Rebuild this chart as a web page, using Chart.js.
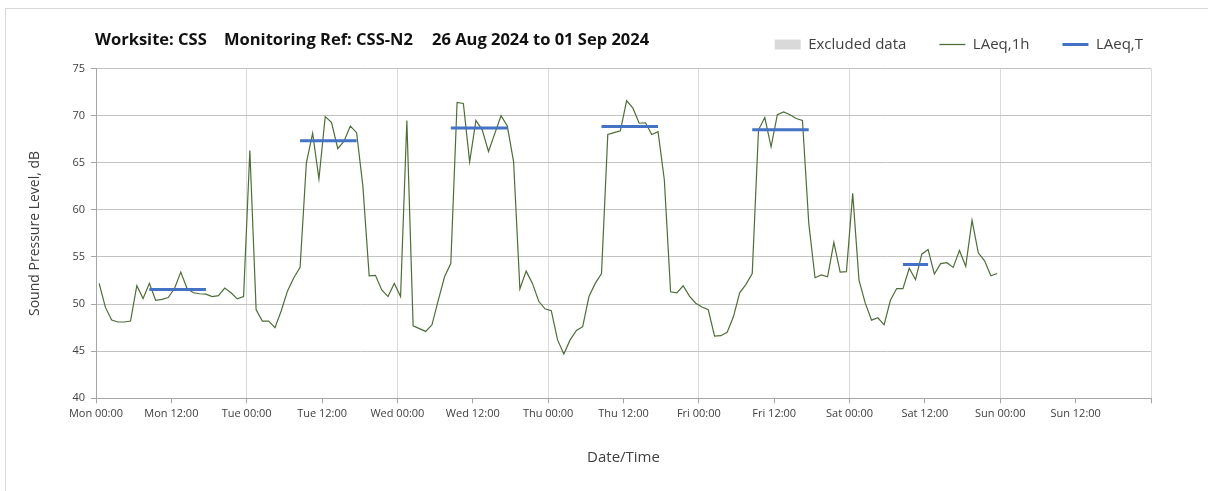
<!DOCTYPE html>
<html>
<head>
<meta charset="utf-8">
<script src="https://cdn.jsdelivr.net/npm/chart.js@4"></script>
<style>
  html, body { margin: 0; padding: 0; background: #fff; }
  #wrap { position: relative; width: 1208px; height: 491px; overflow: hidden; }
  #frame { position: absolute; left: 5px; top: 8px; width: 1400px; height: 700px;
           border-left: 1px solid #d9d9d9; border-top: 1px solid #d9d9d9; pointer-events: none; }
  #title span { position: absolute; top: 29px; font: bold 16.5px 'Open Sans', sans-serif; color: #111; white-space: nowrap; line-height: 20px; }
  canvas { position: absolute; left: 0; top: 0; }
</style>
</head>
<body>
<div id="wrap">
  <canvas id="noise-chart" width="1208" height="491"></canvas>
  <div id="frame"></div>
  <div id="title">
    <span style="left:95px">Worksite: CSS</span>
    <span style="left:224px">Monitoring Ref: CSS-N2</span>
    <span style="left:432px">26 Aug 2024 to 01 Sep 2024</span>
  </div>
</div>
<script>
// hourly LAeq,1h from Mon 00:00, one value per hour (plotted mid-hour)
var laeq1h = [
  52.2, 49.65, 48.3, 48.1, 48.1, 48.2, 51.95, 50.6, 52.2, 50.4, 50.5, 50.7,
  51.65, 53.4, 51.65, 51.2, 51.1, 51.05, 50.8, 50.9, 51.7, 51.2, 50.55, 50.8,
  66.3, 49.4, 48.2, 48.2, 47.5, 49.3, 51.4, 52.8, 53.9, 65.0, 68.15, 63.3,
  69.9, 69.3, 66.5, 67.3, 68.9, 68.2, 62.5, 53.0, 53.05, 51.5, 50.8, 52.2,
  50.8, 69.5, 47.7, 47.4, 47.1, 47.8, 50.4, 52.9, 54.3, 71.4, 71.3, 65.1,
  69.5, 68.5, 66.2, 68.1, 70.0, 68.9, 65.1, 51.6, 53.5, 52.2, 50.3, 49.5,
  49.3, 46.2, 44.7, 46.2, 47.2, 47.6, 50.8, 52.2, 53.25, 68.0, 68.2, 68.4,
  71.6, 70.8, 69.2, 69.25, 68.0, 68.3, 63.2, 51.3, 51.2, 51.95, 50.85, 50.1,
  49.7, 49.4, 46.6, 46.65, 47.0, 48.65, 51.2, 52.1, 53.25, 68.5, 69.8, 66.7,
  70.1, 70.4, 70.1, 69.7, 69.5, 58.6, 52.8, 53.1, 52.9, 56.55, 53.4, 53.45,
  61.75, 52.55, 50.1, 48.3, 48.55, 47.8, 50.4, 51.65, 51.65, 53.8, 52.6, 55.3,
  55.8, 53.2, 54.3, 54.4, 53.9, 55.7, 54.0, 58.9, 55.45, 54.6, 53.0, 53.25
];
var hourOffset = 0.5;

// LAeq,T daytime periods (hours from Mon 00:00)
var periodStart = [8, 32, 56, 80, 104, 128];
var periodEnd = [18, 42, 66, 90, 114, 133];
var laeqT = [51.55, 67.35, 68.7, 68.85, 68.5, 54.2];

var xTickLabels = [
  'Mon 00:00', 'Mon 12:00', 'Tue 00:00', 'Tue 12:00', 'Wed 00:00', 'Wed 12:00',
  'Thu 00:00', 'Thu 12:00', 'Fri 00:00', 'Fri 12:00', 'Sat 00:00', 'Sat 12:00',
  'Sun 00:00', 'Sun 12:00', ''
];
var xMin = 0, xMax = 168, xStep = 12;
var yMin = 40, yMax = 75, yStep = 5;

var FONT = "'Open Sans', sans-serif";
Chart.defaults.font.family = FONT;

var hourlyPoints = laeq1h.map(function (v, i) { return { x: i + hourOffset, y: v }; });

var periodPoints = [];
laeqT.forEach(function (v, i) {
  periodPoints.push({ x: periodStart[i] + hourOffset, y: v });
  periodPoints.push({ x: periodEnd[i] - hourOffset, y: v });
  periodPoints.push({ x: periodEnd[i], y: null });
});

new Chart(document.getElementById('noise-chart'), {
  type: 'line',
  data: {
    datasets: [
      {
        label: 'Excluded data',
        data: [],
        backgroundColor: '#d9d9d9',
        borderColor: '#d9d9d9',
        legendStyle: 'rect',
        legendWidth: 0,
        order: 2
      },
      {
        label: 'LAeq,1h',
        data: hourlyPoints,
        borderColor: '#4f6d38',
        backgroundColor: '#4f6d38',
        borderWidth: 1.2,
        pointRadius: 0,
        tension: 0,
        legendStyle: 'line',
        legendWidth: 1.3,
        order: 1
      },
      {
        label: 'LAeq,T',
        data: periodPoints,
        borderColor: '#4472c4',
        backgroundColor: '#4472c4',
        borderWidth: 3,
        pointRadius: 0,
        spanGaps: false,
        legendStyle: 'line',
        legendWidth: 3,
        order: 0
      }
    ]
  },
  options: {
    responsive: false,
    animation: false,
    layout: { padding: { top: 4, right: 32, left: 0, bottom: 0 } },
    plugins: {
      tooltip: { enabled: false },
      legend: {
        position: 'top',
        align: 'end',
        labels: {
          usePointStyle: true,
          pointStyleWidth: 26,
          boxHeight: 10,
          padding: 33,
          color: '#404040',
          font: { size: 15 },
          generateLabels: function (chart) {
            return chart.data.datasets.map(function (ds, i) {
              return {
                text: ds.label,
                datasetIndex: i,
                pointStyle: ds.legendStyle,
                fillStyle: ds.backgroundColor,
                strokeStyle: ds.borderColor,
                lineWidth: ds.legendWidth,
                fontColor: '#404040',
                hidden: false
              };
            });
          }
        }
      },
      subtitle: {
        display: true,
        text: '',
        weight: 500,
        padding: 0,
        font: { size: 6.6, lineHeight: 1 }
      }
    },
    scales: {
      x: {
        type: 'linear',
        min: xMin,
        max: xMax,
        afterFit: function (scale) {
          scale.height = 92.7;
          scale.paddingRight = 57;
        },
        ticks: {
          stepSize: xStep,
          autoSkip: false,
          maxRotation: 0,
          padding: 4,
          color: '#404040',
          font: { size: 11 },
          callback: function (value, index) { return xTickLabels[index]; }
        },
        grid: {
          tickLength: 5,
          tickColor: '#a6a6a6',
          color: function (ctx) {
            return ctx.tick && ctx.tick.value % 24 === 0 ? '#dadada' : 'rgba(0,0,0,0)';
          }
        },
        border: { color: '#a6a6a6' },
        title: {
          display: true,
          text: 'Date/Time',
          color: '#404040',
          font: { size: 15 },
          padding: { top: 0, bottom: 24 }
        }
      },
      y: {
        min: yMin,
        max: yMax,
        afterFit: function (scale) { scale.width = 96; },
        ticks: {
          stepSize: yStep,
          padding: 6,
          color: '#404040',
          font: { size: 11 }
        },
        grid: { color: '#c3c3c3', tickLength: 5, tickColor: '#a6a6a6' },
        border: { color: '#a6a6a6' },
        title: {
          display: true,
          text: 'Sound Pressure Level, dB',
          color: '#404040',
          font: { size: 14 },
          padding: { top: 26.6, bottom: 0 }
        }
      }
    }
  }
});
</script>
</body>
</html>
